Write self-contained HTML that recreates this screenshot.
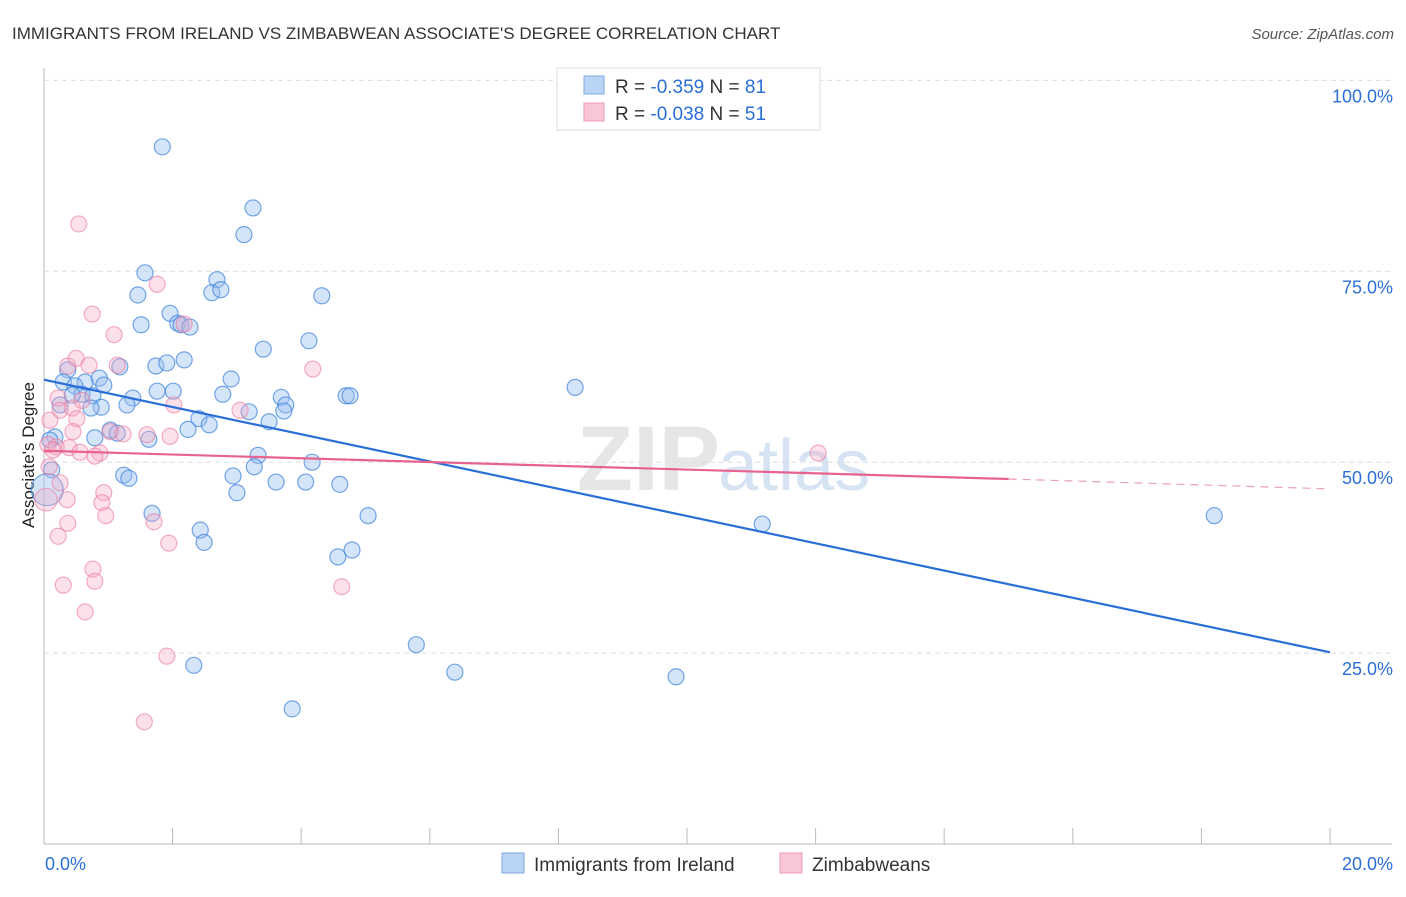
<!DOCTYPE html>
<html><head><meta charset="utf-8"><style>
body{margin:0;background:#fff;font-family:"Liberation Sans",sans-serif}
svg text{font-family:"Liberation Sans",sans-serif}
</style></head><body>
<svg id="c" width="1406" height="892">
<text x="12" y="39" font-size="17" fill="#333">IMMIGRANTS FROM IRELAND VS ZIMBABWEAN ASSOCIATE'S DEGREE CORRELATION CHART</text>
<text x="1394" y="39" font-size="15" fill="#555" text-anchor="end" font-style="italic">Source: ZipAtlas.com</text>
<text x="720" y="490" font-size="92" fill="#e6e6e6" text-anchor="end" font-weight="bold" font-family="Liberation Serif">ZIP</text>
<text x="718" y="490" font-size="72" fill="#d5e3f3">atlas</text>
<text x="34" y="455" font-size="17" fill="#222" text-anchor="middle" transform="rotate(-90 34 455)">Associate's Degree</text>
<g id="grid"></g><g id="marks"></g><g id="lines"></g>
<g>
<rect x="557" y="68" width="263" height="62" fill="#fff" stroke="#ddd"/>
<rect x="584" y="76" width="20" height="18" fill="#b9d4f5" stroke="#7fa9e0"/>
<rect x="584" y="103" width="20" height="18" fill="#f8c6d6" stroke="#eb9ab4"/>
<text x="615" y="93" font-size="19" fill="#333">R = <tspan fill="#2b6fd6">-0.359</tspan>   N = <tspan fill="#2b6fd6">81</tspan></text>
<text x="615" y="120" font-size="19" fill="#333">R = <tspan fill="#2b6fd6">-0.038</tspan>   N = <tspan fill="#2b6fd6">51</tspan></text>
</g>
<g>
<rect x="502" y="853" width="22" height="20" fill="#b9d4f5" stroke="#7fa9e0"/>
<text x="534" y="871" font-size="19" fill="#333">Immigrants from Ireland</text>
<rect x="780" y="853" width="22" height="20" fill="#f8c6d6" stroke="#eb9ab4"/>
<text x="812" y="871" font-size="19" fill="#333">Zimbabweans</text>
</g>
</svg>
<script>
const yTicks=[100,75,50,25];
const yTickLabels=["100.0%","75.0%","50.0%","25.0%"];
const xTicks=[0,2,4,6,8,10,12,14,16,18,20];
const xEndLabels=["0.0%","20.0%"];
const blueX=[1.84,3.25,3.11,1.57,2.69,1.46,2.61,2.75,4.32,1.96,1.51,2.08,2.13,2.27,4.12,3.41,2.18,1.18,1.74,1.91,0.37,0.30,0.64,0.48,0.86,0.93,2.91,1.76,2.01,2.78,1.38,0.59,0.76,3.69,4.70,4.76,8.26,1.29,0.89,0.73,3.76,3.73,3.19,2.41,2.57,3.50,2.24,1.03,1.14,0.17,1.63,3.33,3.27,4.17,1.24,1.32,2.94,3.61,4.07,4.60,3.00,1.68,5.04,2.43,2.49,4.79,4.57,11.17,18.20,5.79,2.33,6.39,9.83,3.86,0.09,0.25,0.44,0.79,0.12,0.05];
const blueY=[91.3,83.3,79.8,74.8,73.9,71.9,72.2,72.6,71.8,69.5,68.0,68.2,68.0,67.7,65.9,64.8,63.4,62.5,62.6,63.0,62.1,60.5,60.5,60.0,61.0,60.1,60.9,59.3,59.3,58.9,58.4,58.9,58.7,58.5,58.7,58.7,59.8,57.5,57.2,57.1,57.5,56.7,56.6,55.7,54.9,55.3,54.3,54.2,53.8,53.3,53.0,50.9,49.4,50.0,48.3,47.9,48.2,47.4,47.4,47.1,46.0,43.3,43.0,41.1,39.5,38.5,37.6,41.9,43.0,26.1,23.4,22.5,21.9,17.7,52.9,57.5,58.8,53.2,49.0,46.4];
const blueW=[1,1,1,1,1,1,1,1,1,1,1,1,1,1,1,1,1,1,1,1,1,1,1,1,1,1,1,1,1,1,1,1,1,1,1,1,1,1,1,1,1,1,1,1,1,1,1,1,1,1,1,1,1,1,1,1,1,1,1,1,1,1,1,1,1,1,1,1,1,1,1,1,1,1,1,1,1,1,1,4];
const pinkX=[0.54,1.76,0.75,1.09,2.18,0.37,0.50,1.14,4.18,0.70,0.22,0.25,0.44,0.51,0.59,2.02,3.05,1.03,1.23,1.60,1.96,0.45,0.09,0.06,0.19,0.39,0.56,0.87,0.79,0.08,0.25,0.93,0.90,0.36,0.96,0.37,1.71,0.22,1.94,0.76,0.79,0.30,0.64,1.91,1.56,4.63,12.04,0.14,0.03];
const pinkY=[81.2,73.3,69.4,66.7,68.1,62.6,63.6,62.7,62.2,62.7,58.4,56.8,57.1,55.7,58.1,57.5,56.8,54.0,53.7,53.6,53.4,54.0,55.5,52.3,52.0,51.9,51.3,51.2,50.8,49.4,47.3,46.0,44.7,45.1,43.0,42.0,42.2,40.3,39.4,36.0,34.4,33.9,30.4,24.6,16.0,33.7,51.2,51.6,45.1];
const pinkW=pinkX.map((_,i)=>i===pinkX.length-1?2:1);
const blueTrend=[[0,60.8],[20,25.1]];
const pinkTrend=[[0,51.5],[15,47.8],[20,46.5]];
const X=v=>44+v*64.3, Y=v=>844-v*7.636;
const NS="http://www.w3.org/2000/svg";
function mk(t,a,p){const e=document.createElementNS(NS,t);for(const k in a)e.setAttribute(k,a[k]);p.appendChild(e);return e;}
const g=document.getElementById('grid');
const ax=mk('line',{x1:44,y1:68,x2:44,y2:844,stroke:'#bbb'},g);


const bx=mk('line',{x1:44,y1:844,x2:1392,y2:844,stroke:'#bbb'},g);


yTicks.forEach((t,i)=>{
 const l=mk('line',{x1:44,x2:1392,y1:Y(t),y2:Y(t),stroke:'#ddd','stroke-dasharray':'5,4'},g);
 
 
 const tx=mk('text',{x:1393,y:Y(t)+22,'font-size':18,fill:'#2b6fd6','text-anchor':'end'},g);
 tx.textContent=yTickLabels[i];
 
 
});
xTicks.forEach(t=>{
 const l=mk('line',{x1:X(t),x2:X(t),y1:828,y2:844,stroke:'#bbb'},g);
 
 
});
const t0=mk('text',{x:45,y:870,'font-size':18,fill:'#2b6fd6'},g);t0.textContent=xEndLabels[0];


const t1=mk('text',{x:1393,y:870,'font-size':18,fill:'#2b6fd6','text-anchor':'end'},g);t1.textContent=xEndLabels[1];


const m=document.getElementById('marks');
blueX.forEach((x,i)=>{
 const c=mk('circle',{cx:X(x),cy:Y(blueY[i]),r:8*Math.sqrt(blueW[i]),fill:'rgba(150,190,240,0.4)',stroke:'rgba(60,130,220,0.7)','stroke-width':1.2},m);
 
 
});
pinkX.forEach((x,i)=>{
 const c=mk('circle',{cx:X(x),cy:Y(pinkY[i]),r:8*Math.sqrt(pinkW[i]),fill:'rgba(245,170,195,0.35)',stroke:'rgba(235,120,160,0.6)','stroke-width':1.2},m);
 
 
});
const L=document.getElementById('lines');
const b=mk('line',{x1:X(blueTrend[0][0]),y1:Y(blueTrend[0][1]),x2:X(blueTrend[1][0]),y2:Y(blueTrend[1][1]),stroke:'#2a6fd8','stroke-width':2.2},L);


const p1=mk('line',{x1:X(pinkTrend[0][0]),y1:Y(pinkTrend[0][1]),x2:X(pinkTrend[1][0]),y2:Y(pinkTrend[1][1]),stroke:'#e8628f','stroke-width':2.2},L);


const p2=mk('line',{x1:X(pinkTrend[1][0]),y1:Y(pinkTrend[1][1]),x2:X(pinkTrend[2][0]),y2:Y(pinkTrend[2][1]),stroke:'#e8a0b8','stroke-width':1.2,'stroke-dasharray':'8,6'},L);


</script>
</body></html>
